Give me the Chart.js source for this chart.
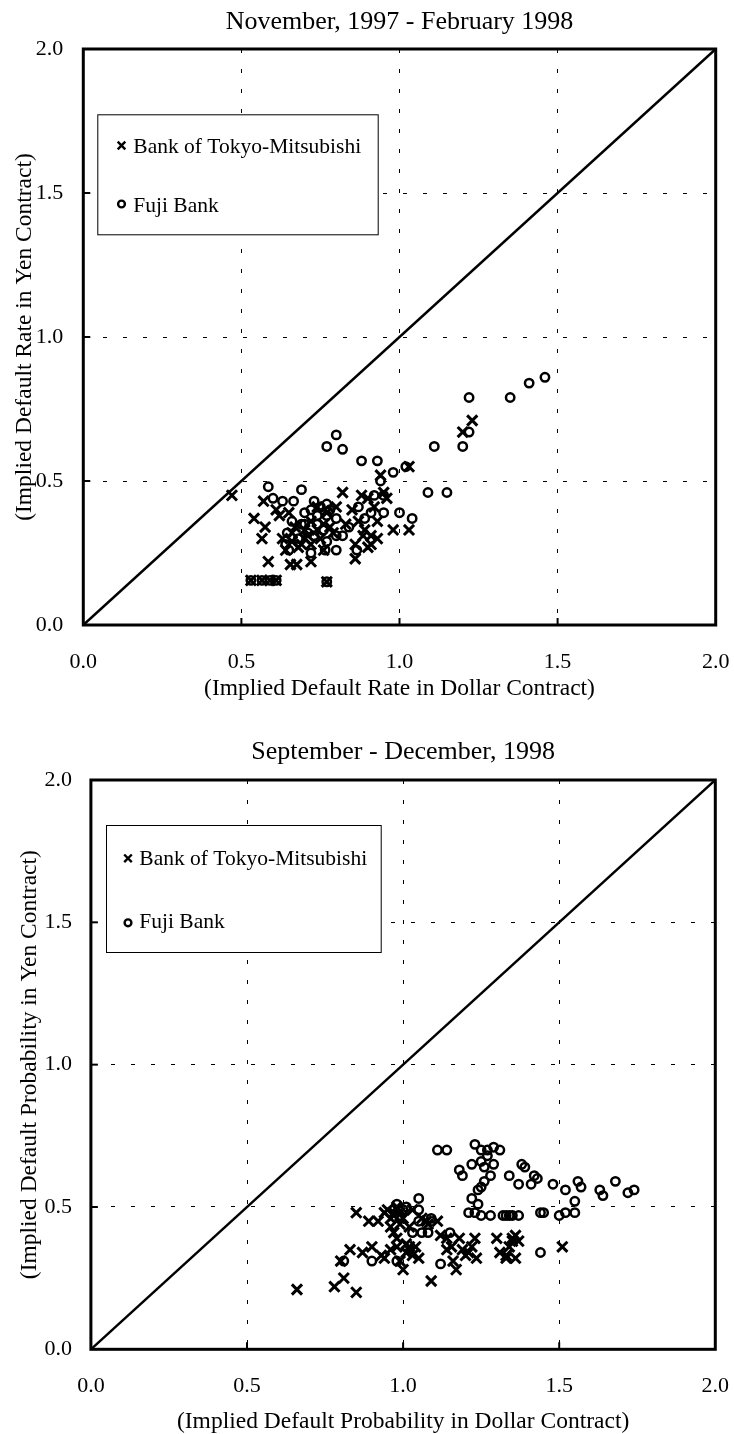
<!DOCTYPE html>
<html><head><meta charset="utf-8">
<script src="https://cdn.jsdelivr.net/npm/chart.js@4.4.1/dist/chart.umd.min.js"></script>
<style>
html,body{margin:0;padding:0;background:#fff;}
.wrap{position:absolute;left:0;width:734px;height:717px;}
canvas{display:block;}
</style></head><body>
<div class="wrap" style="top:0"><canvas id="c1" width="734" height="717"></canvas></div>
<div class="wrap" style="top:717px"><canvas id="c2" width="734" height="717"></canvas></div>
<script>
// ---------- data ----------
const axisTickValues = [0, 0.5, 1.0, 1.5, 2.0];
const legendLabels = ['Bank of Tokyo-Mitsubishi', 'Fuji Bank'];
const titleTop = 'November, 1997 - February 1998';
const xTitleTop = '(Implied Default Rate in Dollar Contract)';
const yTitleTop = '(Implied Default Rate in Yen Contract)';
const titleBottom = 'September - December, 1998';
const xTitleBottom = '(Implied Default Probability in Dollar Contract)';
const yTitleBottom = '(Implied Default Probability in Yen Contract)';
const diagonal = [[0, 0], [2, 2]];

const btmTop = [
  [0.47,0.45],[0.54,0.37],[0.57,0.43],[0.575,0.34],[0.565,0.30],[0.585,0.22],[0.61,0.40],[0.62,0.38],
  [0.65,0.39],[0.63,0.30],[0.64,0.26],[0.655,0.21],[0.675,0.21],[0.69,0.28],[0.70,0.33],[0.72,0.22],
  [0.72,0.36],[0.74,0.41],[0.75,0.30],[0.77,0.39],[0.78,0.34],[0.80,0.41],[0.82,0.46],[0.83,0.35],
  [0.85,0.40],[0.86,0.28],[0.86,0.23],[0.88,0.45],[0.885,0.31],[0.90,0.27],[0.92,0.41],[0.93,0.36],
  [0.93,0.30],[0.94,0.52],[0.96,0.44],[0.98,0.33],[1.03,0.55],[1.03,0.33],[1.20,0.67],[1.23,0.71],
  [0.53,0.155],[0.565,0.155],[0.59,0.155],[0.61,0.155],[0.77,0.15],[0.67,0.34],[0.71,0.31],[0.76,0.26],
  [0.87,0.36],[0.90,0.44],[0.95,0.46],[0.68,0.27],[0.79,0.32],[0.91,0.28],[0.66,0.32],
  [0.70,0.30],[0.72,0.28],[0.74,0.33],[0.66,0.29],[0.76,0.35],[0.89,0.33],[0.91,0.31]
];
const fujiTop = [
  [0.585,0.48],[0.60,0.44],[0.63,0.43],[0.665,0.43],[0.69,0.47],[0.73,0.43],[0.77,0.42],[0.77,0.62],
  [0.80,0.66],[0.82,0.61],[0.88,0.57],[0.93,0.57],[0.98,0.53],[1.02,0.55],[0.94,0.50],[0.87,0.41],
  [0.92,0.45],[0.95,0.45],[1.00,0.39],[1.04,0.37],[1.09,0.46],[1.15,0.46],[1.11,0.62],[1.20,0.62],
  [1.22,0.67],[1.22,0.79],[1.35,0.79],[1.41,0.84],[1.46,0.86],[0.70,0.39],[0.74,0.38],[0.77,0.38],
  [0.80,0.37],[0.69,0.35],[0.76,0.33],[0.80,0.31],[0.82,0.31],[0.77,0.29],[0.65,0.26],[0.72,0.25],
  [0.765,0.26],[0.80,0.26],[0.89,0.37],[0.91,0.39],[0.95,0.39],[0.865,0.26],[0.71,0.32],[0.64,0.28],
  [0.645,0.32],[0.53,0.155],[0.565,0.155],[0.59,0.155],[0.61,0.155],[0.77,0.15],[0.66,0.36],[0.68,0.30],
  [0.74,0.35],[0.84,0.34],[0.72,0.40],[0.75,0.41],[0.78,0.40],[0.70,0.35],[0.73,0.31]
];
const btmBottom = [
  [0.66,0.21],[0.78,0.22],[0.81,0.25],[0.85,0.20],[0.85,0.48],[0.89,0.45],[0.92,0.45],[0.80,0.31],
  [0.83,0.35],[0.87,0.34],[0.90,0.36],[0.94,0.32],[0.94,0.48],[0.97,0.48],[0.98,0.50],[0.97,0.41],
  [0.98,0.36],[0.99,0.31],[1.00,0.28],[1.02,0.35],[1.05,0.32],[1.03,0.49],[1.075,0.45],[1.11,0.45],
  [1.09,0.24],[1.14,0.39],[1.155,0.36],[1.18,0.39],[1.23,0.39],[1.17,0.28],[1.20,0.33],[1.235,0.32],
  [1.14,0.35],[1.19,0.35],[1.22,0.36],[1.30,0.39],[1.31,0.34],[1.33,0.32],[1.35,0.38],[1.36,0.40],
  [1.37,0.38],[1.51,0.36],[0.96,0.46],[0.99,0.44],[1.01,0.34],[0.96,0.35],[1.06,0.46],[0.93,0.33],
  [1.00,0.46],[1.02,0.43],[1.04,0.36],[1.12,0.40],[1.16,0.31],[1.08,0.44],[1.33,0.33],[1.36,0.32],
  [0.95,0.49],[0.97,0.47],[0.99,0.48],[0.96,0.43],[0.98,0.39],[1.02,0.36],[1.03,0.33],[1.01,0.37],
  [1.35,0.39],[1.34,0.36],[1.21,0.34]
];
const fujiBottom = [
  [0.81,0.31],[0.90,0.31],[0.98,0.51],[1.05,0.53],[1.05,0.49],[1.05,0.45],[1.09,0.46],[1.03,0.41],
  [1.06,0.41],[1.12,0.30],[1.15,0.41],[0.98,0.31],[1.11,0.70],[1.14,0.70],[1.23,0.72],[1.25,0.70],
  [1.27,0.70],[1.29,0.71],[1.31,0.70],[1.27,0.68],[1.22,0.65],[1.25,0.66],[1.18,0.63],[1.19,0.61],
  [1.29,0.65],[1.28,0.61],[1.26,0.59],[1.25,0.57],[1.24,0.56],[1.22,0.53],[1.24,0.51],[1.34,0.61],
  [1.38,0.65],[1.39,0.64],[1.37,0.58],[1.42,0.61],[1.43,0.60],[1.41,0.58],[1.48,0.58],[1.52,0.56],
  [1.56,0.59],[1.57,0.57],[1.55,0.52],[1.63,0.56],[1.64,0.54],[1.68,0.59],[1.72,0.55],[1.74,0.56],
  [1.21,0.48],[1.25,0.47],[1.28,0.47],[1.32,0.47],[1.34,0.47],[1.35,0.47],[1.37,0.47],[1.44,0.48],
  [1.45,0.48],[1.50,0.47],[1.52,0.48],[1.55,0.48],[1.44,0.34],[1.23,0.48],[1.00,0.49],[1.08,0.41],
  [0.99,0.47],[1.01,0.50],[1.26,0.64],[1.33,0.47]
];

// ---------- drawing ----------
const FONT = "'Liberation Serif','Times New Roman',serif";
const toXY = arr => arr.map(p => ({x: p[0], y: p[1]}));

function makeChart(canvasId, g, texts, crosses, circles) {
  const H = 717;
  const decor = {
    id: 'decor',
    afterDraw(chart) {
      const ctx = chart.ctx, a = chart.chartArea;
      const xs = chart.scales.x, ys = chart.scales.y;
      ctx.save();
      // frame
      ctx.strokeStyle = '#000'; ctx.lineWidth = 3;
      ctx.strokeRect(a.left, a.top, a.right - a.left, a.bottom - a.top);
      // inward ticks
      ctx.lineWidth = 2;
      axisTickValues.forEach(v => {
        if (v === 0 || v === 2) return;
        const px = xs.getPixelForValue(v), py = ys.getPixelForValue(v);
        ctx.beginPath(); ctx.moveTo(px, a.bottom); ctx.lineTo(px, a.bottom - 7); ctx.stroke();
        ctx.beginPath(); ctx.moveTo(a.left, py); ctx.lineTo(a.left + 7, py); ctx.stroke();
      });
      // titles
      ctx.fillStyle = '#000';
      ctx.textAlign = 'center'; ctx.textBaseline = 'alphabetic';
      const cx = (a.left + a.right) / 2, cy = (a.top + a.bottom) / 2;
      ctx.font = '26px ' + FONT;
      ctx.fillText(texts.title, cx, g.titleY);
      ctx.font = '23.5px ' + FONT;
      ctx.fillText(texts.xTitle, cx, g.xTitleY);
      ctx.save();
      ctx.translate(g.yTitleX, cy); ctx.rotate(-Math.PI / 2);
      ctx.fillText(texts.yTitle, 0, 0);
      ctx.restore();
      // legend box
      const L = g.legend;
      ctx.fillStyle = '#fff';
      ctx.fillRect(L.x, L.y, L.w, L.h);
      ctx.strokeStyle = '#000'; ctx.lineWidth = 1;
      ctx.strokeRect(L.x + 0.5, L.y + 0.5, L.w, L.h);
      // legend marks
      ctx.lineWidth = 2.4;
      const m = L.markX, r = 3.8;
      ctx.beginPath();
      ctx.moveTo(m - r, L.row1 - r); ctx.lineTo(m + r, L.row1 + r);
      ctx.moveTo(m - r, L.row1 + r); ctx.lineTo(m + r, L.row1 - r);
      ctx.stroke();
      ctx.beginPath(); ctx.arc(m, L.row2, 3.4, 0, Math.PI * 2); ctx.stroke();
      ctx.fillStyle = '#000';
      ctx.font = '21.5px ' + FONT; ctx.textAlign = 'left';
      ctx.fillText(legendLabels[0], L.textX, L.base1);
      ctx.fillText(legendLabels[1], L.textX, L.base2);
      ctx.restore();
    }
  };
  const tickFont = {family: FONT, size: 22};
  const gridColor = c => (c.tick && (c.tick.value === 0 || c.tick.value === 2)) ? 'rgba(0,0,0,0)' : '#000';
  return new Chart(document.getElementById(canvasId), {
    type: 'scatter',
    data: {
      datasets: [
        {type: 'line', data: toXY(diagonal), borderColor: '#000', borderWidth: 2.5,
         pointRadius: 0, fill: false, tension: 0, order: 3},
        {label: legendLabels[0], data: toXY(crosses), pointStyle: 'crossRot', pointRadius: 7.2,
         borderColor: '#000', backgroundColor: '#000', pointBorderWidth: 3, borderWidth: 3, order: 2},
        {label: legendLabels[1], data: toXY(circles), pointStyle: 'circle', pointRadius: 4.2,
         borderColor: '#000', backgroundColor: 'rgba(0,0,0,0)', pointBorderWidth: 2.5, borderWidth: 2.5, order: 1}
      ]
    },
    options: {
      responsive: false, animation: false, devicePixelRatio: 1,
      layout: {padding: {top: g.top, right: 734 - g.right, left: 0, bottom: 0}},
      plugins: {legend: {display: false}, tooltip: {enabled: false}},
      scales: {
        x: {
          type: 'linear', min: 0, max: 2,
          afterBuildTicks: s => { s.ticks = axisTickValues.map(v => ({value: v})); },
          afterFit: s => { s.height = H - g.bottom; s.paddingLeft = 0; s.paddingRight = 0; },
          ticks: {font: tickFont, color: '#000', padding: g.xPad, maxRotation: 0, autoSkip: false,
                  callback: v => Number(v).toFixed(1)},
          grid: {color: gridColor, lineWidth: 1, drawTicks: false},
          border: {display: false, dash: [4, 16]}
        },
        y: {
          type: 'linear', min: 0, max: 2,
          afterBuildTicks: s => { s.ticks = axisTickValues.map(v => ({value: v})); },
          afterFit: s => { s.width = g.left; s.paddingTop = 0; s.paddingBottom = 0; },
          ticks: {font: tickFont, color: '#000', padding: g.yPad, autoSkip: false,
                  callback: v => Number(v).toFixed(1)},
          grid: {color: gridColor, lineWidth: 1, drawTicks: false},
          border: {display: false, dash: [4, 16]}
        }
      }
    },
    plugins: [decor]
  });
}

makeChart('c1',
  {left: 83.3, top: 49, right: 715.7, bottom: 625, xPad: 24, yPad: 20,
   titleY: 28.5, xTitleY: 694.5, yTitleX: 31,
   legend: {x: 97.3, y: 114.3, w: 280.4, h: 120, markX: 121.5, row1: 145.5, row2: 204,
            textX: 133.3, base1: 152.7, base2: 211.7}},
  {title: titleTop, xTitle: xTitleTop, yTitle: yTitleTop},
  btmTop, fujiTop);

makeChart('c2',
  {left: 90.9, top: 63, right: 715.3, bottom: 632.3, xPad: 24, yPad: 19,
   titleY: 42.3, xTitleY: 711, yTitleX: 36,
   legend: {x: 106, y: 108, w: 274.7, h: 127, markX: 128, row1: 141.3, row2: 205.8,
            textX: 139.3, base1: 148, base2: 211.3}},
  {title: titleBottom, xTitle: xTitleBottom, yTitle: yTitleBottom},
  btmBottom, fujiBottom);
</script>
</body></html>
